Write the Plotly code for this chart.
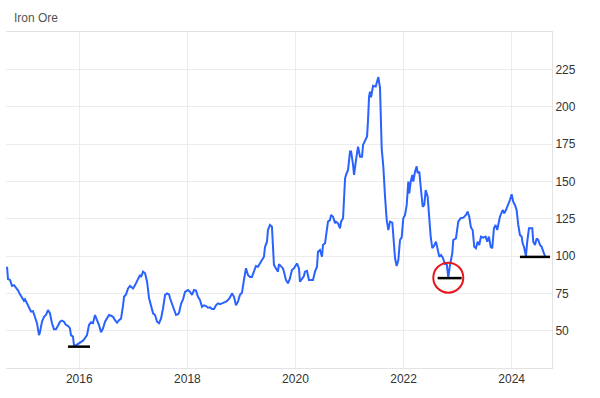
import pandas as pd
import plotly.graph_objects as go

# Iron ore price (decimal year, USD/t)
years = [
    2014.663, 2014.681, 2014.718, 2014.755, 2014.792, 2014.829, 2014.866, 2014.903, 2014.940, 2014.977,
    2014.996, 2015.033, 2015.070, 2015.107, 2015.144, 2015.181, 2015.218, 2015.255, 2015.273, 2015.310,
    2015.347, 2015.384, 2015.421, 2015.458, 2015.495, 2015.532, 2015.569, 2015.606, 2015.643, 2015.680,
    2015.717, 2015.754, 2015.791, 2015.828, 2015.847, 2015.884, 2015.902, 2015.921, 2015.958, 2015.995,
    2016.032, 2016.069, 2016.106, 2016.143, 2016.180, 2016.217, 2016.254, 2016.291, 2016.328, 2016.365,
    2016.402, 2016.439, 2016.476, 2016.513, 2016.550, 2016.587, 2016.624, 2016.661, 2016.698, 2016.735,
    2016.772, 2016.809, 2016.827, 2016.864, 2016.901, 2016.938, 2016.957, 2016.994, 2017.031, 2017.086,
    2017.123, 2017.142, 2017.179, 2017.216, 2017.253, 2017.290, 2017.327, 2017.364, 2017.401, 2017.438,
    2017.475, 2017.512, 2017.549, 2017.586, 2017.623, 2017.660, 2017.678, 2017.715, 2017.752, 2017.789,
    2017.826, 2017.845, 2017.882, 2017.919, 2017.956, 2018.011, 2018.048, 2018.085, 2018.122, 2018.159,
    2018.196, 2018.233, 2018.270, 2018.307, 2018.344, 2018.381, 2018.418, 2018.455, 2018.492, 2018.529,
    2018.566, 2018.603, 2018.640, 2018.677, 2018.714, 2018.751, 2018.788, 2018.825, 2018.862, 2018.899,
    2018.936, 2018.973, 2019.010, 2019.047, 2019.084, 2019.121, 2019.158, 2019.195, 2019.232, 2019.269,
    2019.306, 2019.343, 2019.380, 2019.417, 2019.436, 2019.473, 2019.491, 2019.528, 2019.565, 2019.584,
    2019.602, 2019.621, 2019.658, 2019.676, 2019.695, 2019.732, 2019.769, 2019.787, 2019.824, 2019.861,
    2019.898, 2019.935, 2019.972, 2020.028, 2020.065, 2020.083, 2020.120, 2020.157, 2020.176, 2020.213,
    2020.250, 2020.268, 2020.305, 2020.324, 2020.361, 2020.398, 2020.416, 2020.453, 2020.490, 2020.509,
    2020.546, 2020.583, 2020.601, 2020.638, 2020.657, 2020.694, 2020.731, 2020.749, 2020.786, 2020.823,
    2020.842, 2020.879, 2020.916, 2020.934, 2020.971, 2021.008, 2021.027, 2021.064, 2021.082, 2021.119,
    2021.156, 2021.193, 2021.230, 2021.249, 2021.286, 2021.323, 2021.341, 2021.360, 2021.378, 2021.397,
    2021.434, 2021.483, 2021.532, 2021.563, 2021.594, 2021.624, 2021.656, 2021.687, 2021.717, 2021.748,
    2021.791, 2021.809, 2021.841, 2021.872, 2021.902, 2021.933, 2021.964, 2021.994, 2022.026, 2022.057,
    2022.087, 2022.105, 2022.131, 2022.161, 2022.179, 2022.211, 2022.242, 2022.260, 2022.290, 2022.322,
    2022.353, 2022.383, 2022.408, 2022.445, 2022.470, 2022.501, 2022.531, 2022.562, 2022.599, 2022.630,
    2022.660, 2022.692, 2022.723, 2022.766, 2022.797, 2022.827, 2022.858, 2022.901, 2022.919, 2022.969,
    2023.012, 2023.056, 2023.105, 2023.154, 2023.185, 2023.215, 2023.247, 2023.278, 2023.308, 2023.339,
    2023.370, 2023.400, 2023.432, 2023.474, 2023.518, 2023.548, 2023.580, 2023.611, 2023.641, 2023.672,
    2023.703, 2023.733, 2023.783, 2023.833, 2023.863, 2023.894, 2023.937, 2023.968, 2024.000, 2024.029,
    2024.061, 2024.092, 2024.122, 2024.153, 2024.184, 2024.203, 2024.227, 2024.264, 2024.288, 2024.320,
    2024.351, 2024.381, 2024.399, 2024.431, 2024.462, 2024.492, 2024.523, 2024.554, 2024.584, 2024.616,
]
prices = [
    92.8, 84.6, 84.0, 80.0, 80.5, 79.0, 77.0, 74.3, 71.7, 70.0,
    71.0, 68.3, 65.0, 62.7, 63.0, 59.3, 55.0, 47.0, 49.0, 56.0,
    59.3, 60.5, 63.8, 61.6, 55.0, 51.0, 51.0, 53.3, 56.0, 56.7,
    56.0, 53.8, 53.3, 51.5, 47.0, 46.0, 40.4, 39.8, 40.8, 41.5,
    42.2, 43.3, 45.0, 47.0, 53.8, 55.6, 55.0, 60.5, 57.0, 53.8,
    49.0, 51.5, 56.0, 58.2, 60.5, 60.0, 59.3, 57.0, 55.3, 57.0,
    58.2, 67.0, 72.7, 74.3, 78.3, 80.0, 79.4, 78.3, 80.5, 85.0,
    87.3, 86.0, 89.5, 88.4, 82.8, 71.7, 67.0, 61.6, 60.5, 56.0,
    55.0, 58.2, 65.0, 74.0, 75.0, 74.3, 71.7, 68.3, 63.8, 60.5,
    61.0, 62.0, 68.0, 71.0, 76.0, 77.2, 76.0, 74.0, 77.2, 76.8,
    72.7, 70.5, 66.0, 67.0, 66.5, 65.4, 65.6, 64.5, 64.5, 67.0,
    68.3, 67.8, 68.3, 68.7, 69.4, 70.5, 72.3, 75.0, 72.7, 67.0,
    69.4, 74.0, 75.4, 84.0, 91.8, 87.3, 86.0, 86.0, 89.5, 93.3,
    92.8, 95.0, 97.3, 99.5, 106.0, 109.6, 117.4, 120.8, 119.6, 104.0,
    94.0, 92.8, 90.6, 89.5, 94.6, 92.8, 91.7, 89.5, 84.0, 81.7,
    85.0, 90.6, 91.7, 95.0, 91.7, 82.8, 85.0, 86.6, 89.5, 90.0,
    84.0, 84.0, 84.4, 84.0, 89.5, 92.8, 102.9, 104.0, 99.5, 107.4,
    108.5, 119.6, 123.0, 124.0, 127.5, 126.3, 121.9, 123.0, 121.9, 118.5,
    123.0, 125.3, 152.0, 154.3, 157.6, 170.0, 170.0, 161.0, 154.3, 164.3,
    173.2, 166.5, 166.5, 174.4, 177.7, 180.0, 191.0, 206.8, 210.0, 206.3,
    214.0, 213.5, 219.8, 212.4, 172.0, 160.0, 139.8, 124.0, 117.4, 123.0,
    122.3, 110.7, 98.5, 93.3, 97.3, 110.7, 112.5, 125.3, 127.5, 134.2,
    149.8, 142.0, 149.8, 154.3, 149.8, 156.5, 160.0, 155.5, 156.5, 144.2,
    133.0, 134.2, 144.2, 139.8, 126.3, 113.0, 105.2, 106.7, 109.6, 104.0,
    99.5, 100.7, 99.1, 94.6, 95.0, 85.5, 94.0, 101.8, 110.7, 111.8,
    123.0, 125.3, 125.7, 127.5, 129.7, 126.3, 119.0, 117.4, 106.2, 105.2,
    109.6, 107.4, 113.0, 112.3, 113.0, 109.6, 113.0, 106.2, 105.2, 118.5,
    120.8, 117.4, 126.3, 130.8, 128.6, 130.8, 134.2, 137.5, 141.3, 136.4,
    134.2, 130.8, 120.8, 114.1, 113.0, 108.5, 106.2, 100.0, 109.6, 118.5,
    118.5, 118.5, 109.6, 107.4, 111.8, 110.7, 107.4, 106.2, 102.9, 100.0,
]

# Support levels (start year, end year, level) and highlighted low
support_starts = [2015.791, 2022.630, 2024.153]
support_ends = [2016.198, 2023.074, 2024.708]
support_levels = [39.3, 85.2, 99.4]
circle_year = 2022.827
circle_level = 85.5

y_ticks = [50, 75, 100, 125, 150, 175, 200, 225]
x_range_years = [2014.644, 2024.745]
y_range = [25, 250]


def to_date(y):
    yr = int(y)
    start = pd.Timestamp(year=yr, month=1, day=1)
    end = pd.Timestamp(year=yr + 1, month=1, day=1)
    return start + (end - start) * (y - yr)


dates = [to_date(v) for v in years]

fig = go.Figure()
fig.add_trace(go.Scatter(
    x=dates, y=prices, mode="lines",
    line=dict(color="#2962FF", width=2),
    hoverinfo="skip", showlegend=False,
))
for s, e, lv in zip(support_starts, support_ends, support_levels):
    fig.add_trace(go.Scatter(
        x=[to_date(s), to_date(e)], y=[lv, lv], mode="lines",
        line=dict(color="#000000", width=2.5),
        hoverinfo="skip", showlegend=False,
    ))
fig.add_trace(go.Scatter(
    x=[to_date(circle_year)], y=[circle_level], mode="markers",
    marker=dict(symbol="circle-open", size=30, color="#E8141B", line=dict(width=2, color="#E8141B")),
    hoverinfo="skip", showlegend=False,
))

fig.update_layout(
    width=600, height=398,
    margin=dict(l=6, r=48, t=32, b=30),
    paper_bgcolor="white", plot_bgcolor="white",
    font=dict(family="Liberation Sans, Arial, sans-serif", size=12, color="#333333"),
    annotations=[dict(
        text="Iron Ore", xref="paper", yref="paper", x=0, y=1,
        xanchor="left", yanchor="bottom", xshift=6, yshift=5,
        showarrow=False, font=dict(size=12, color="#555555"),
    )],
)
fig.update_xaxes(
    type="date",
    range=[to_date(x_range_years[0]), to_date(x_range_years[1])],
    dtick="M24", tick0="2016-01-01", tickformat="%Y",
    showgrid=True, gridcolor="#ececec", gridwidth=1,
    showline=True, linecolor="#e3e3e3", linewidth=1, mirror=True,
    ticks="", zeroline=False,
    tickfont=dict(size=12, color="#333333"),
)
fig.update_yaxes(
    side="right", range=y_range, tickvals=y_ticks,
    showgrid=True, gridcolor="#ececec", gridwidth=1,
    showline=True, linecolor="#e3e3e3", linewidth=1,
    ticks="", zeroline=False,
    tickfont=dict(size=12, color="#333333"),
)

fig.write_html("out.html")
